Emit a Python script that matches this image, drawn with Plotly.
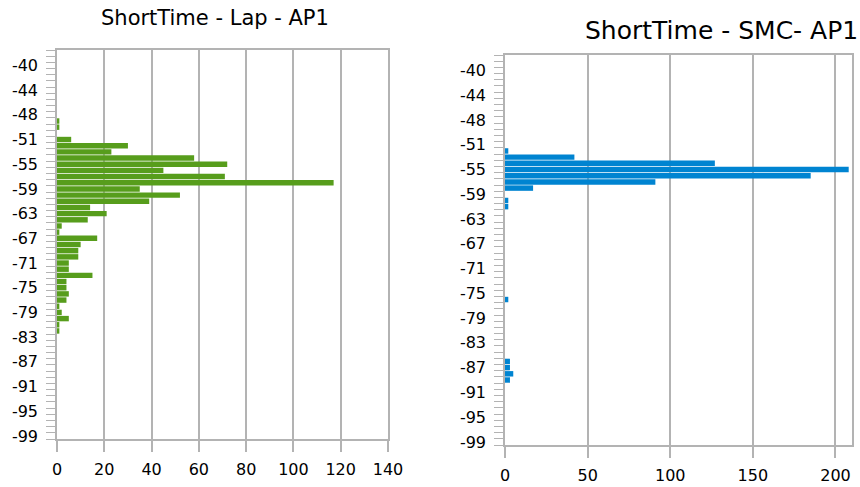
import plotly.graph_objects as go

# Categories listed top to bottom as in the chart
categories = ["-38", "-39", "-40", "-41", "-42", "-43", "-44", "-45", "-46", "-47", "-48", "-48.5",
              "-49", "-50"] + [str(-v) for v in range(51, 100)]

lap_counts = [0, 0, 0, 0, 0, 0, 0, 0, 0, 0, 0, 1,
              1, 0, 6, 30, 23, 58, 72, 45, 71, 117, 35, 52, 39, 14, 21, 13, 2, 1,
              17, 10, 9, 9, 5, 5, 15, 4, 4, 5, 4, 1, 2, 5, 1, 1,
              0, 0, 0, 0, 0, 0, 0, 0, 0, 0, 0, 0, 0, 0, 0, 0, 0]

smc_counts = [0, 0, 0, 0, 0, 0, 0, 0, 0, 0, 0, 0,
              0, 0, 0, 2, 42, 127, 208, 185, 91, 17, 0, 2, 2, 0, 0, 0, 0, 0,
              0, 0, 0, 0, 0, 0, 0, 0, 0, 2, 0, 0, 0, 0, 0, 0,
              0, 0, 0, 3, 3, 5, 3, 0, 0, 0, 0, 0, 0, 0, 0, 0, 0]

tick_labels = [c if i % 4 == 2 else "" for i, c in enumerate(categories)]

left_title = "ShortTime - Lap - AP1"
right_title = "ShortTime - SMC- AP1"

GREEN = "#579d1c"
BLUE = "#0084d1"
GRID = "#b3b3b3"
FONT = dict(family="DejaVu Sans", size=16, color="#000000")

fig = go.Figure()
fig.add_trace(go.Bar(x=lap_counts, y=categories, orientation="h", marker=dict(color=GREEN, line=dict(width=0)),
                     xaxis="x", yaxis="y", showlegend=False))
fig.add_trace(go.Bar(x=smc_counts, y=categories, orientation="h", marker=dict(color=BLUE, line=dict(width=0)),
                     xaxis="x2", yaxis="y2", showlegend=False))

W, H = 860, 487

def xdom(a, b):
    return [a / W, b / W]

def ydom(top, bottom):
    return [(H - bottom) / H, (H - top) / H]

xcommon = dict(showgrid=True, gridcolor=GRID, gridwidth=1.5, ticks="outside", ticklen=11, tickcolor=GRID,
               tickwidth=1.5, showline=True, linecolor=GRID, linewidth=1.5, mirror=True, zeroline=False,
               tickfont=FONT, ticklabelstandoff=4, automargin=False)
ycommon = dict(type="category", categoryorder="array", categoryarray=categories, autorange="reversed",
               tickmode="array", tickvals=categories, ticktext=tick_labels, ticks="outside", ticklen=9,
               tickcolor=GRID, tickwidth=1, tickson="boundaries", showgrid=False, showline=True,
               linecolor=GRID, linewidth=1.5, mirror=True, tickfont=FONT, ticklabelstandoff=14,
               automargin=False)

fig.update_layout(
    width=W, height=H, margin=dict(l=0, r=0, t=0, b=0, autoexpand=False),
    paper_bgcolor="white", plot_bgcolor="white", bargap=0.12,
    font=FONT,
    xaxis=dict(domain=xdom(57, 388), anchor="y", range=[0, 140], dtick=20, **xcommon),
    yaxis=dict(domain=ydom(50, 439), anchor="x", **ycommon),
    xaxis2=dict(domain=xdom(505, 852), anchor="y2", range=[0, 210], dtick=50, **xcommon),
    yaxis2=dict(domain=ydom(55, 445), anchor="x2", **ycommon),
    annotations=[
        dict(text=left_title, x=215 / W, y=(H - 18) / H, xref="paper", yref="paper",
             xanchor="center", yanchor="middle", showarrow=False,
             font=dict(family="DejaVu Sans", size=21, color="#000000")),
        dict(text=right_title, x=721 / W, y=(H - 30) / H, xref="paper", yref="paper",
             xanchor="center", yanchor="middle", showarrow=False,
             font=dict(family="DejaVu Sans", size=25, color="#000000")),
    ],
)

fig.write_html("out.html")
